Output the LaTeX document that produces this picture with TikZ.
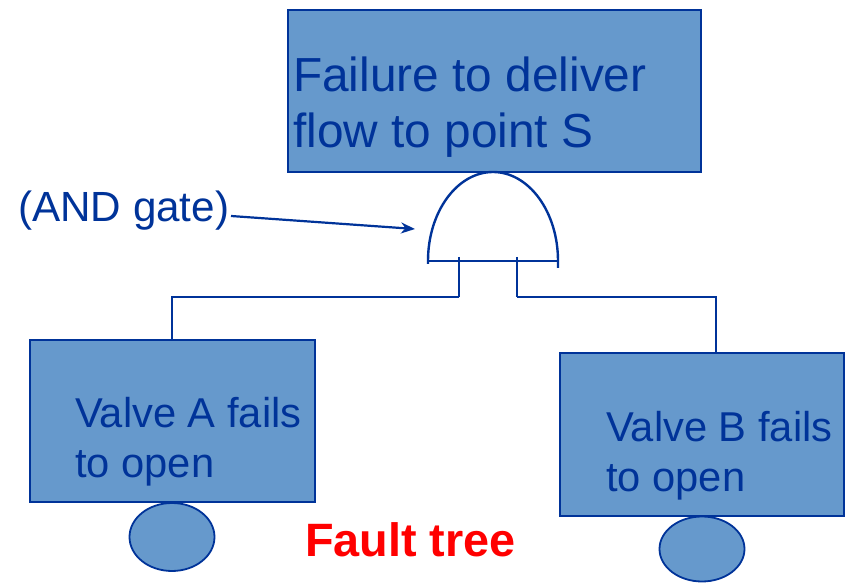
\documentclass[tikz,border=0pt]{standalone}
\usepackage{fontspec}
\setmainfont{Liberation Sans}
\usetikzlibrary{arrows.meta,shapes.geometric}
\definecolor{boxfill}{HTML}{6699CC}
\definecolor{dblue}{HTML}{003399}
\definecolor{fred}{HTML}{FF0000}
\begin{document}
\begin{tikzpicture}[x=1pt,y=1pt,
  event/.style={draw=dblue,fill=boxfill,line width=1.8pt,inner sep=0,outer sep=0},
  lbl/.style={anchor=base west,inner sep=0,text=dblue},
  wire/.style={draw=dblue,line width=1.6pt},
  gateline/.style={draw=dblue,line width=2.4pt},
  basic/.style={draw=dblue,fill=boxfill,line width=1.8pt,ellipse,inner sep=0}]
\useasboundingbox (0,0) rectangle (845,583);
% top event
\node[event,minimum width=413pt,minimum height=162pt] (top) at (494.5,492) {};
\node[lbl,font=\fontsize{47.8}{56}\selectfont] (t1) at (293,491) {Failure to deliver};
\node[lbl,font=\fontsize{47.8}{56}\selectfont] (t2) at (293,435) {flow to point S};
% AND gate
\coordinate (gl) at (428,322);
\coordinate (gr) at (558,322);
\draw[gateline] (428,319) -- (gl) arc[start angle=180,end angle=0,x radius=65pt,y radius=89pt] -- (558,315);
\draw[gateline] (gl) -- (gr);
\coordinate (legl) at (459,326);
\coordinate (legr) at (517,326);
\coordinate (cornl) at (459,286);
\coordinate (cornr) at (517,286);
\coordinate (dropl) at (172,286);
\coordinate (dropr) at (716,286);
% basic events
\node[event,minimum width=285pt,minimum height=162pt] (va) at (172.5,162) {};
\node[event,minimum width=284pt,minimum height=163pt] (vb) at (702,148.5) {};
\node[lbl,font=\fontsize{41.7}{50}\selectfont] (a1) at (75,155) {Valve A fails};
\node[lbl,font=\fontsize{41.7}{50}\selectfont] (a2) at (75,105) {to open};
\node[lbl,font=\fontsize{41.7}{50}\selectfont] (b1) at (606,141) {Valve B fails};
\node[lbl,font=\fontsize{41.7}{50}\selectfont] (b2) at (606,91) {to open};
\draw[gateline] (legl) -- (cornl);
\draw[gateline] (legr) -- (cornr);
\draw[wire] (cornl) -- (dropl) -- (va.north -| dropl);
\draw[wire] (cornr) -- (dropr) -- (vb.north -| dropr);
% circles
\node[basic,minimum width=85pt,minimum height=68pt] (ca) at (172,46) {};
\node[basic,minimum width=85pt,minimum height=65pt] (cb) at (702,34) {};
% labels
\node[lbl,font=\fontsize{42.2}{48}\selectfont] (andlbl) at (18,361) {(AND gate)};
\coordinate (arrs) at (231,367);
\coordinate (tip) at (415,354);
\draw[draw=dblue,line width=2.2pt,-{Stealth[length=14pt,width=11pt]}] (arrs) -- (tip);
\node[anchor=base west,inner sep=0,text=fred,font=\fontsize{46.8}{54}\selectfont\bfseries] (ft) at (305,26) {Fault tree};
\end{tikzpicture}
\end{document}
